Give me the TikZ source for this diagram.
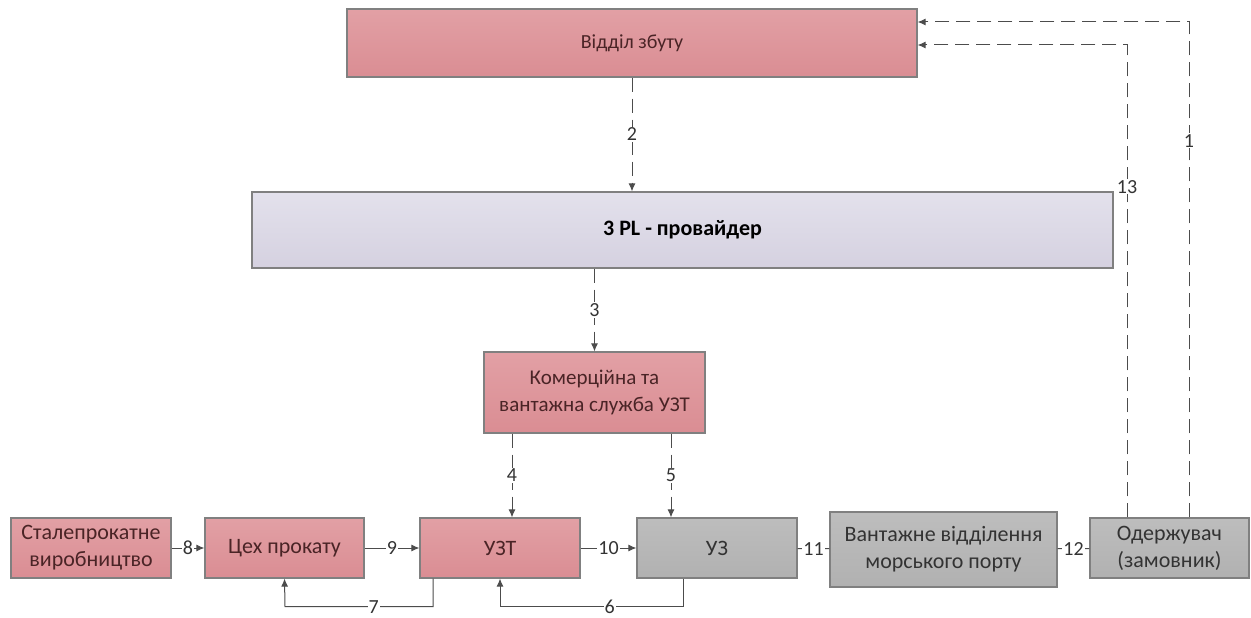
\documentclass[tikz,border=0pt]{standalone}
\usepackage{fontspec}
\setmainfont{Carlito}
\usepackage{tikz}
\usetikzlibrary{positioning,arrows.meta}

\definecolor{rozh}{HTML}{E2A0A5}
\definecolor{rozhd}{HTML}{DA8D93}
\definecolor{bouzok}{HTML}{E3E1EC}
\definecolor{bouzokd}{HTML}{D5D1E0}
\definecolor{siryi}{HTML}{BDBDBD}
\definecolor{siryid}{HTML}{B1B1B1}
\definecolor{ramka}{HTML}{808080}
\definecolor{tekst}{HTML}{4A2426}

\begin{document}
\begin{tikzpicture}[
  x=1pt, y=-1pt,
  font=\fontsize{22}{27}\selectfont,
  blok/.style={draw=ramka, line width=1.2pt, align=center, inner sep=3pt},
  rozhevyi/.style={blok, top color=rozh, bottom color=rozhd, text=tekst},
  siryi/.style={blok, top color=siryi, bottom color=siryid, text=black!80},
  bouzkovyi/.style={blok, top color=bouzok, bottom color=bouzokd, text=black},
  strilka/.style={-{Latex[length=8pt,width=7pt]}, line width=1pt, draw=black!70},
  potik/.style={line width=1pt, draw=black!70},
  punktyr/.style={dash pattern=on 14pt off 7pt},
  nomer/.style={fill=white, inner sep=1pt, text=black!80, font=\fontsize{20}{22}\selectfont},
]
\useasboundingbox (0,0) rectangle (1251,618);

% ---- Керування --------------------------------------------------------
\node[rozhevyi, minimum width=570pt, minimum height=68pt, font=\fontsize{20}{24}\selectfont]
      (zbut) at (632,43) {Відділ збуту};
\node[bouzkovyi, minimum width=861pt, minimum height=76pt] (prov) at (682.5,230)
      {\textbf{3 PL - провайдер}};
\node[rozhevyi, minimum width=221pt, minimum height=81pt, font=\fontsize{21}{27}\selectfont]
      (komerc) at (594.5,392.5) {Комерційна та\\вантажна служба УЗТ};

% ---- Ланцюг постачання ------------------------------------------------
\node[rozhevyi, minimum width=160pt, minimum height=60pt] (stal) at (91,548)
      {Сталепрокатне\\виробництво};
\node[rozhevyi, minimum width=159pt, minimum height=60pt] (tsekh) at (284.5,548) {Цех прокату};
\node[rozhevyi, minimum width=160pt, minimum height=60pt] (uzt) at (500,548) {УЗТ};
\node[siryi, minimum width=160pt, minimum height=60pt] (uz) at (717,548) {УЗ};
\node[siryi, minimum width=227pt, minimum height=75pt] (port) at (943.5,549.5)
      {Вантажне відділення\\морського порту};
\node[siryi, minimum width=159pt, minimum height=60pt] (oderzh) at (1169.5,548)
      {Одержувач\\(замовник)};

% ---- Інформаційні потоки ----------------------------------------------
\draw[strilka, punktyr] (zbut.south) -- node[nomer] {2} (prov.north -| zbut.south);
\draw[strilka, punktyr] (prov.south -| komerc.north) -- node[nomer] {3} (komerc.north);
\draw[strilka, punktyr] ([xshift=-82.5pt]komerc.south) -- node[nomer] {4}
      ([xshift=-82.5pt]komerc.south |- uzt.north);
\draw[strilka, punktyr] ([xshift=76.5pt]komerc.south) -- node[nomer] {5}
      ([xshift=76.5pt]komerc.south |- uz.north);

% зворотний зв'язок від одержувача
\draw[strilka, punktyr] ([xshift=19.5pt]oderzh.north) |- node[nomer, pos=0.38] {1}
      ([yshift=21pt]zbut.east);
\draw[strilka, punktyr] ([xshift=-42.5pt]oderzh.north) |- node[nomer, pos=0.35] {13}
      ([yshift=-2pt]zbut.east);

% ---- Матеріальні потоки -----------------------------------------------
\draw[strilka] (stal) -- node[nomer] {8} (tsekh);
\draw[strilka] (tsekh) -- node[nomer] {9} (uzt);
\draw[strilka] (uzt) -- node[nomer] {10} (uz);
\draw[potik] (uz) -- node[nomer] {11} (port);
\draw[potik] (port) -- node[nomer] {12} (oderzh);

% повернення
\draw[strilka] ([xshift=-67pt]uzt.south) -- ++(0,28) -- node[nomer, pos=0.4] {7}
      ++(-148,0) -- (tsekh.south);
\draw[strilka] ([xshift=-34pt]uz.south) -- ++(0,28) -- node[nomer, pos=0.4] {6}
      ++(-183,0) -- (uzt.south);
\end{tikzpicture}
\end{document}
